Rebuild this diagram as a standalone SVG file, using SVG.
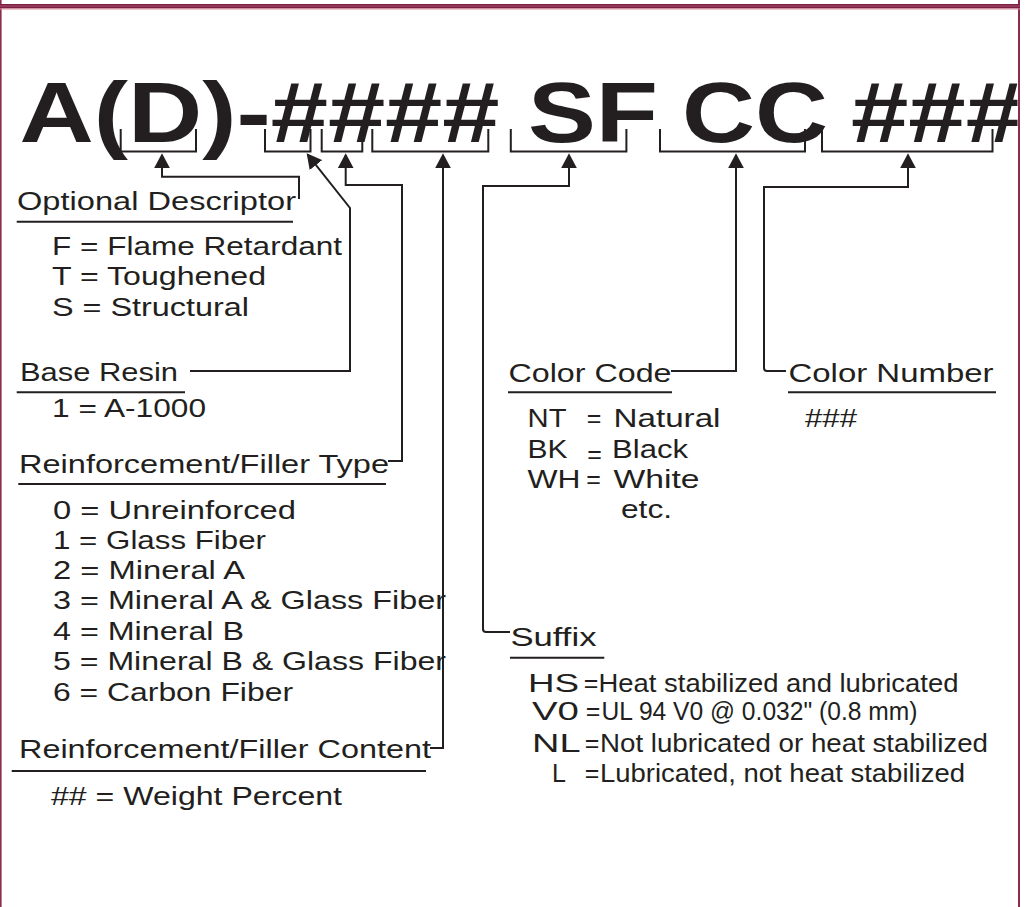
<svg xmlns="http://www.w3.org/2000/svg" width="1026" height="907" viewBox="0 0 1026 907">
<style>
.t{font-family:'Liberation Sans',Arial,Helvetica,sans-serif;font-size:25px;fill:#231f20}
.n{font-family:'Liberation Sans Narrow','Liberation Sans',Arial,sans-serif;font-size:25px;fill:#231f20}
.big{font-family:'Liberation Sans',Arial,Helvetica,sans-serif;font-weight:bold;font-size:85px;fill:#231f20}
.ln{fill:none;stroke:#231f20;stroke-width:2}
.ul{stroke:#231f20;stroke-width:2}
</style>
<defs>
<marker id="ah" markerUnits="userSpaceOnUse" markerWidth="15" markerHeight="16" viewBox="0 0 15 16" refX="13" refY="8" orient="auto"><path d="M0,0 L15,8 L0,16 z" fill="#231f20"/></marker>
<clipPath id="clip"><rect x="0" y="0" width="1017.5" height="907"/></clipPath>
</defs>
<rect x="0" y="0" width="1026" height="907" fill="#ffffff"/>
<g id="frame">
<rect x="0" y="0" width="1.6" height="907" fill="#8c2b4d"/>
<rect x="1018" y="0" width="2" height="907" fill="#8c2b4d"/>
<rect x="0" y="4" width="1020" height="4.5" fill="#93365a"/>
<rect x="0" y="4" width="1020" height="1" fill="#7a2042"/>
<rect x="0" y="7" width="1020" height="1" fill="#7a2042"/>
<rect x="0" y="8.5" width="1020" height="1" fill="#d98ea0"/>
</g>
<g id="code" clip-path="url(#clip)">
<text class="big" x="19.5" y="142" textLength="480" lengthAdjust="spacingAndGlyphs">A(D)-####</text>
<text class="big" x="528" y="142" textLength="130" lengthAdjust="spacingAndGlyphs">SF</text>
<text class="big" x="682" y="142" textLength="146" lengthAdjust="spacingAndGlyphs">CC</text>
<text class="big" x="851" y="142" textLength="172" lengthAdjust="spacingAndGlyphs">###</text>
</g>
<g id="connectors">
<path class="ln" d="M120.7,129 V151.5 H196 V129"/>
<path class="ln" d="M265,129 V151.5 H310.5 V129"/>
<path class="ln" d="M321.7,129 V151.5 H362.3 V129"/>
<path class="ln" d="M372.3,129 V151.5 H488.3 V129"/>
<path class="ln" d="M510.8,129 V151.5 H626.4 V129"/>
<path class="ln" d="M660,129 V151.5 H805 V129"/>
<path class="ln" d="M822,129 V151.5 H992.5 V129"/>
<path class="ln" d="M299,199 V176.7 H162 V155.3" marker-end="url(#ah)"/>
<path class="ln" d="M190,371 H350 V208 L307.9,154.9" marker-end="url(#ah)"/>
<path class="ln" d="M388,461 H402 V185 H345.7 V155.3" marker-end="url(#ah)"/>
<path class="ln" d="M430,748 H443 V155.3" marker-end="url(#ah)"/>
<path class="ln" d="M510,632 H486 Q483,632 483,629 V186 H569 V155.3" marker-end="url(#ah)"/>
<path class="ln" d="M671,371 H736 V155.3" marker-end="url(#ah)"/>
<path class="ln" d="M786,371 H767 Q764,371 764,368 V187 H908 V155.3" marker-end="url(#ah)"/>
</g>
<g id="optional-descriptor">
<text class="t" x="17" y="210" textLength="279" lengthAdjust="spacingAndGlyphs">Optional Descriptor</text>
<line class="ul" x1="16.7" y1="221.7" x2="293" y2="221.7"/>
<text class="t" x="52" y="255" textLength="290" lengthAdjust="spacingAndGlyphs">F = Flame Retardant</text>
<text class="t" x="52" y="285" textLength="214" lengthAdjust="spacingAndGlyphs">T = Toughened</text>
<text class="t" x="52" y="316" textLength="197" lengthAdjust="spacingAndGlyphs">S = Structural</text>
</g>
<g id="base-resin">
<text class="t" x="20" y="381" textLength="158" lengthAdjust="spacingAndGlyphs">Base Resin</text>
<line class="ul" x1="16.7" y1="392.3" x2="185" y2="392.3"/>
<text class="t" x="52" y="417" textLength="154" lengthAdjust="spacingAndGlyphs">1 = A-1000</text>
</g>
<g id="filler-type">
<text class="t" x="19" y="473" textLength="370" lengthAdjust="spacingAndGlyphs">Reinforcement/Filler Type</text>
<line class="ul" x1="18.3" y1="484" x2="386" y2="484"/>
<text class="t" x="53" y="519" textLength="243" lengthAdjust="spacingAndGlyphs">0 = Unreinforced</text>
<text class="t" x="53" y="549" textLength="213" lengthAdjust="spacingAndGlyphs">1 = Glass Fiber</text>
<text class="t" x="53" y="579" textLength="192" lengthAdjust="spacingAndGlyphs">2 = Mineral A</text>
<text class="t" x="53" y="609" textLength="393" lengthAdjust="spacingAndGlyphs">3 = Mineral A &amp; Glass Fiber</text>
<text class="t" x="53" y="640" textLength="191" lengthAdjust="spacingAndGlyphs">4 = Mineral B</text>
<text class="t" x="53" y="670" textLength="393" lengthAdjust="spacingAndGlyphs">5 = Mineral B &amp; Glass Fiber</text>
<text class="t" x="53" y="701" textLength="240" lengthAdjust="spacingAndGlyphs">6 = Carbon Fiber</text>
</g>
<g id="filler-content">
<text class="t" x="19" y="758" textLength="412" lengthAdjust="spacingAndGlyphs">Reinforcement/Filler Content</text>
<line class="ul" x1="11.7" y1="771" x2="426" y2="771"/>
<text class="n" x="51" y="805" textLength="291" lengthAdjust="spacingAndGlyphs">## = Weight Percent</text>
</g>
<g id="color-code">
<text class="t" x="508.5" y="381.5" textLength="163" lengthAdjust="spacingAndGlyphs">Color Code</text>
<line class="ul" x1="508" y1="392.3" x2="672" y2="392.3"/>
<text class="t" x="527.5" y="427" textLength="39" lengthAdjust="spacingAndGlyphs">NT</text>
<text class="t" x="594" y="427" text-anchor="middle">=</text>
<text class="t" x="613.5" y="427" textLength="107" lengthAdjust="spacingAndGlyphs">Natural</text>
<text class="t" x="527.5" y="458" textLength="40" lengthAdjust="spacingAndGlyphs">BK</text>
<text class="t" x="594.5" y="463" text-anchor="middle">=</text>
<text class="t" x="612" y="458" textLength="76" lengthAdjust="spacingAndGlyphs">Black</text>
<text class="t" x="527.5" y="488" textLength="53" lengthAdjust="spacingAndGlyphs">WH</text>
<text class="t" x="593.5" y="488" text-anchor="middle">=</text>
<text class="t" x="613.5" y="488" textLength="86" lengthAdjust="spacingAndGlyphs">White</text>
<text class="t" x="621" y="518" textLength="51" lengthAdjust="spacingAndGlyphs">etc.</text>
</g>
<g id="color-number">
<text class="t" x="788.5" y="381.5" textLength="205" lengthAdjust="spacingAndGlyphs">Color Number</text>
<line class="ul" x1="788" y1="392.3" x2="996" y2="392.3"/>
<text class="n" x="805" y="427" font-size="22" textLength="52" lengthAdjust="spacingAndGlyphs">###</text>
</g>
<g id="suffix">
<text class="t" x="510.5" y="645.5" textLength="86" lengthAdjust="spacingAndGlyphs">Suffix</text>
<line class="ul" x1="510" y1="657.7" x2="604.3" y2="657.7"/>
<text class="n" x="528" y="691.5" textLength="51" lengthAdjust="spacingAndGlyphs">HS</text>
<text class="n" x="591" y="691.5" text-anchor="middle">=</text>
<text class="n" x="598.5" y="691.5" textLength="360" lengthAdjust="spacingAndGlyphs">Heat stabilized and lubricated</text>
<text class="n" x="532" y="720" textLength="47" lengthAdjust="spacingAndGlyphs">V0</text>
<text class="n" x="593" y="720" text-anchor="middle">=</text>
<text class="n" x="601.5" y="720" textLength="316" lengthAdjust="spacingAndGlyphs">UL 94 V0 @ 0.032" (0.8 mm)</text>
<text class="n" x="532" y="751.5" textLength="48.5" lengthAdjust="spacingAndGlyphs">NL</text>
<text class="n" x="592" y="751.5" text-anchor="middle">=</text>
<text class="n" x="600" y="751.5" textLength="388" lengthAdjust="spacingAndGlyphs">Not lubricated or heat stabilized</text>
<text class="n" x="552" y="781.5">L</text>
<text class="n" x="592" y="781.5" text-anchor="middle">=</text>
<text class="n" x="600" y="781.5" textLength="365" lengthAdjust="spacingAndGlyphs">Lubricated, not heat stabilized</text>
</g>
</svg>
